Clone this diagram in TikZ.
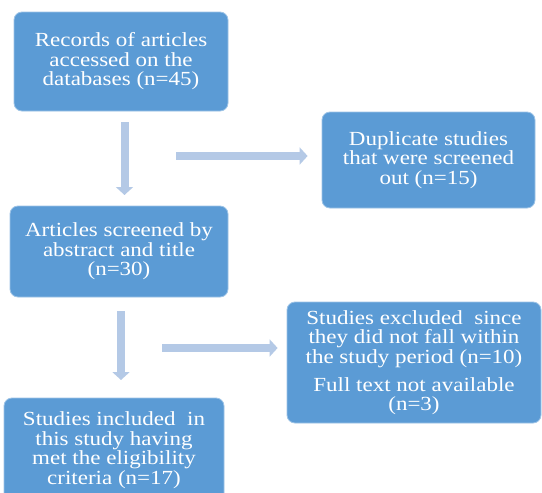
\documentclass[tikz,border=0pt]{standalone}
\usepackage{fontspec}
\setmainfont{Liberation Serif}[FakeStretch=1.15]
\usetikzlibrary{arrows.meta}
\definecolor{boxblue}{HTML}{5B9BD5}
\definecolor{arrblue}{HTML}{B4C9E6}
\tikzset{
  flowbox/.style={rectangle, rounded corners=8pt, fill=boxblue, draw=boxblue!60!white, line width=0.8pt,
    text=white, align=center, inner sep=0pt, font=\fontsize{20}{19.5}\selectfont},
  flowarrow/.style={draw=arrblue, line width=8pt, -{Triangle[width=17pt,length=8pt]}}
}
\begin{document}
\begin{tikzpicture}[x=1pt,y=-1pt]
\clip (0,0) rectangle (542,493);
\fill[white] (0,0) rectangle (542,493);
\node[flowbox, minimum width=214pt, minimum height=99pt] (b1) at (121,61.5)
  {Records of articles\\accessed on the\\databases (n=45)};
\node[flowbox, minimum width=213pt, minimum height=96pt] (b2) at (428.5,160)
  {Duplicate studies\\that were screened\\out (n=15)};
\node[flowbox, minimum width=218pt, minimum height=91pt] (b3) at (119,251.5)
  {Articles screened by\\abstract and title\\(n=30)};
\node[flowbox, minimum width=254pt, minimum height=121pt] (b4) at (414,362.5)
  {Studies excluded\ \ since\\they did not fall within\\the study period (n=10)\\[8.5pt]Full text not available\\(n=3)};
\node[flowbox, minimum width=220pt, minimum height=104pt] (b5) at (114,450)
  {Studies included\ \ in\\this study having\\met the eligibility\\criteria (n=17)};
\coordinate (v1s) at (124.5,123);
\coordinate (v1e) at (124.5,195);
\coordinate (h1s) at (176,156);
\coordinate (v2s) at (121,311);
\coordinate (v2e) at (121,380);
\coordinate (h2s) at (162,348);
\draw[flowarrow, shorten <=-1pt] (v1s) -- (v1e);
\draw[flowarrow, shorten >=14pt] (h1s) -- (h1s -| b2.west);
\draw[flowarrow] (v2s) -- (v2e);
\draw[flowarrow, shorten >=9pt] (h2s) -- (h2s -| b4.west);
\end{tikzpicture}
\end{document}
